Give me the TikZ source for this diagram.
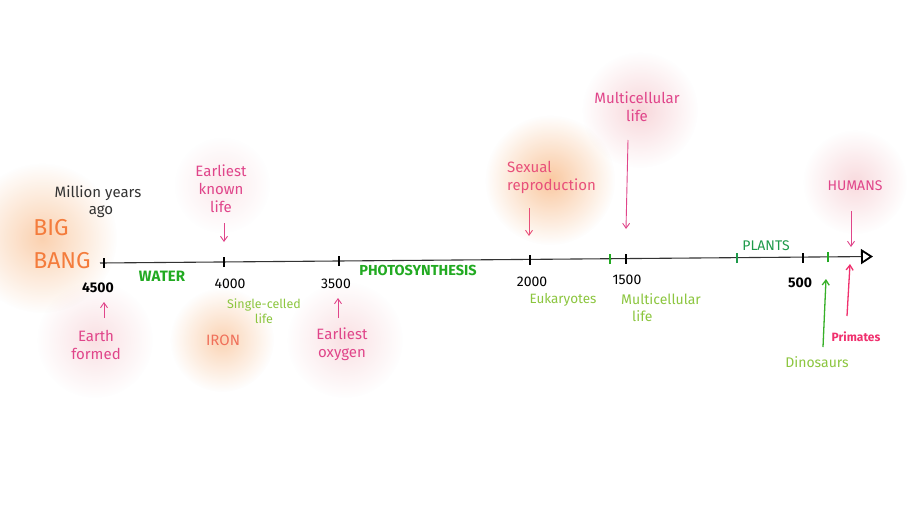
\documentclass[tikz,border=0pt]{standalone}
\usepackage{fontspec}
\setmainfont{Fira Sans}
\usetikzlibrary{arrows.meta,fadings}
\definecolor{inkpink}{HTML}{E0458A}
\definecolor{salmon}{HTML}{E8507A}
\definecolor{hotpink}{HTML}{F0306E}
\definecolor{bangorange}{HTML}{F47C3C}
\definecolor{ironorange}{HTML}{F0705A}
\definecolor{boldgreen}{HTML}{22AA22}
\definecolor{plantgreen}{HTML}{1E9A4A}
\definecolor{softgreen}{HTML}{8CC63F}
\definecolor{ink}{HTML}{333333}
\definecolor{glowpink}{HTML}{F0A8B0}
\definecolor{gloworange}{HTML}{F7A868}
\tikzfading[name=softglow, inner color=transparent!30, outer color=transparent!100]
\tikzset{
  pinklbl/.style={font=\fontsize{15}{18}\selectfont, align=center, inner sep=0pt},
  greenlbl/.style={font=\fontsize{13.5}{16}\selectfont, align=center, inner sep=0pt, text=softgreen},
  caps/.style={font=\fontsize{15}{17}\selectfont\bfseries, inner sep=0pt},
  year/.style={font=\fontsize{14}{16}\selectfont, text=black, inner sep=0pt},
  tick/.style={line width=1.2pt},
  glow/.style={fill=#1, path fading=softglow, draw=none},
  ptr/.style={-{Straight Barb[length=5pt,width=7pt]}, line width=0.9pt},
}
\begin{document}
\begin{tikzpicture}[x=1pt,y=-1pt]
\useasboundingbox[fill=white] (0,0) rectangle (916,512);

% soft coloured clouds behind the labels
\fill[glow=gloworange, fill opacity=0.75] (42,238) circle (75);
\fill[glow=glowpink, fill opacity=0.5] (95,340) circle (58);
\fill[glow=glowpink, fill opacity=0.35] (222,185) circle (48);
\fill[glow=gloworange, fill opacity=0.7] (222,340) circle (52);
\fill[glow=glowpink, fill opacity=0.5] (345,340) circle (58);
\fill[glow=gloworange, fill opacity=0.9] (550,180) circle (65);
\fill[glow=glowpink, fill opacity=0.65] (640,110) circle (58);
\fill[glow=glowpink, fill opacity=0.6] (855,182) circle (52);

% the time axis
\coordinate (tl0) at (100,263);
\coordinate (tlend) at (873,256.5);
\draw[ink, line width=1.1pt, -{Triangle[open, length=12pt, width=15pt, line width=1.8pt, color=black]}] (tl0) -- (tlend);

% ticks
\foreach \n/\x/\y/\c in {t4500/104/263/black, t4000/224/262/black, t3500/339/261.1/black,
    t2000/530/259.6/black, teuk/610/259/boldgreen, t1500/626/258.9/black,
    tplant/737/258/plantgreen, t500/803/257.5/black, tdino/828/257.3/boldgreen}{
  \coordinate (\n) at (\x,\y);
  \draw[tick, \c] ([yshift=-5pt]\n) -- ([yshift=5pt]\n);
}

% year numbers
\node[year] (y4500) at (98,288) {\textbf{4500}};
\node[year] (y4000) at (230,284) {4000};
\node[year] (y3500) at (336,284) {3500};
\node[year] (y2000) at (532,282) {2000};
\node[year] (y1500) at (627,280) {1500};
\node[year] (y500) at (800,283) {\textbf{500}};

% heading and big bang
\node[font=\fontsize{15}{18}\selectfont, text=ink, align=center, inner sep=0pt] (mya) at (98,202) {Million years\\[-1pt]\hspace*{6pt}ago};
\node[font=\fontsize{23}{27}\selectfont, text=bangorange, align=left, inner sep=0pt] (bang) at (62,244) {BIG\\[6pt]BANG};

% events above the axis
\node[pinklbl, text=inkpink] (known) at (221,189) {Earliest\\known\\life};
\coordinate (knownend) at (224,242);
\draw[ptr, inkpink] (224,223) -- (knownend);

\node[pinklbl, text=salmon, align=left, anchor=west] (sex) at (507,177) {Sexual\\reproduction};
\coordinate (sexend) at (529,236);
\draw[ptr, salmon] (529,208) -- (sexend);

\node[pinklbl, text=inkpink] (multi) at (637,107) {Multicellular\\life};
\coordinate (multiend) at (626,229);
\draw[ptr, inkpink] (628,140) -- (multiend);

\node[font=\fontsize{14}{16}\selectfont, inner sep=0pt, text=inkpink] (humans) at (855,186) {HUMANS};
\coordinate (humansend) at (851,247);
\draw[ptr, inkpink] (851,211) -- (humansend);

\node[font=\fontsize{14}{16}\selectfont, inner sep=0pt, text=plantgreen] (plants) at (766,246) {PLANTS};

% periods along the axis
\node[caps, text=boldgreen] (water) at (162,276) {WATER};
\node[caps, text=boldgreen, font=\fontsize{14.5}{17}\selectfont\bfseries] (photo) at (418,270) {PHOTOSYNTHESIS};

% events below the axis
\coordinate (earthend) at (104,302);
\draw[ptr, inkpink] (104,318) -- (earthend);
\node[pinklbl, text=inkpink] (earth) at (96,345) {Earth\\formed};

\node[greenlbl, font=\fontsize{12.5}{15}\selectfont] (single) at (264,311) {Single-celled\\life};
\node[font=\fontsize{15}{18}\selectfont, inner sep=0pt, text=ironorange] (iron) at (223,340) {IRON};

\coordinate (oxyend) at (338,298);
\draw[ptr, inkpink] (338,318) -- (oxyend);
\node[pinklbl, text=inkpink] (oxy) at (342,344) {Earliest\\oxygen};

\node[greenlbl] (euk) at (563,300) {Eukaryotes};
\node[greenlbl, font=\fontsize{14}{17}\selectfont, align=left] (mlife) at (661,308) {Multicellular\\\hspace*{11pt}life};

\coordinate (dinoend) at (826,279);
\draw[ptr, boldgreen!80!softgreen, line width=1.3pt] (823,347) -- (dinoend);
\node[greenlbl, font=\fontsize{14}{16}\selectfont] (dino) at (817,362) {Dinosaurs};

\coordinate (primend) at (850,264);
\draw[ptr, hotpink, line width=1.3pt] (847,316) -- (primend);
\node[inner sep=0pt, text=hotpink, font=\fontsize{12}{14}\selectfont\bfseries] (prim) at (856,337) {Primates};
\end{tikzpicture}
\end{document}
